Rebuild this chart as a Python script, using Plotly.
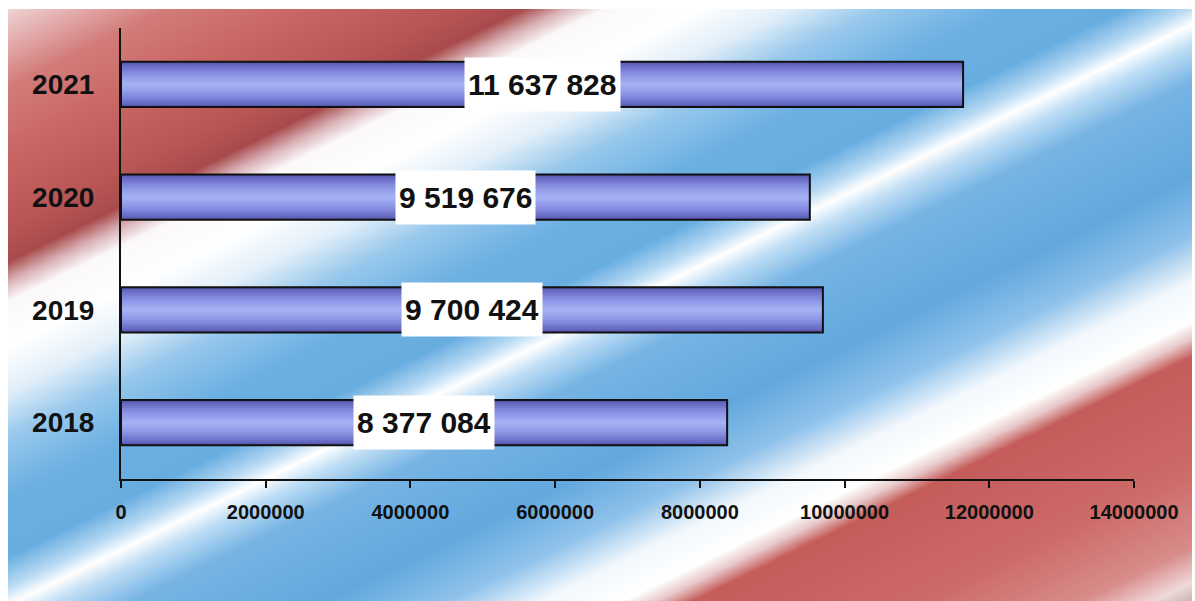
import numpy as np
import plotly.graph_objects as go

years = ['2018', '2019', '2020', '2021']
totals = [8377084, 9700424, 9519676, 11637828]
x_ticks = [0, 2000000, 4000000, 6000000, 8000000, 10000000, 12000000, 14000000]

# diagonal red / white / blue backdrop, colour keyed on t = y + 0.49 * x (pixels)
band_stops = [
    (0, '#f2e2e2'), (40, '#e6b4b4'), (90, '#d27c7a'), (160, '#c86664'),
    (230, '#b85656'), (265, '#a84a4c'), (285, '#d8b0b4'), (305, '#fbf8fa'),
    (350, '#ffffff'), (395, '#e2eff9'), (440, '#98c8ec'), (500, '#6cb0e2'),
    (560, '#68ade0'), (590, '#b8daf4'), (608, '#ffffff'), (628, '#c0def5'),
    (665, '#76b4e4'), (760, '#62a8de'), (820, '#90c2ea'), (865, '#f2f8fd'),
    (905, '#ffffff'), (922, '#e8c8c8'), (940, '#c45c5a'), (1050, '#cc6a68'),
    (1130, '#d88c8a'), (1165, '#f0d8d8'), (1200, '#a89898'),
]
T_MAX = 1200

W, H = 1195, 601
L, R, T, B = 8, 3, 9, 0

px_x = np.linspace(L, W - R, 160)
px_y = np.linspace(T, H - B, 80)
band_t = px_y[:, None] + 0.49 * px_x[None, :]

fig = go.Figure()

fig.add_trace(go.Heatmap(
    x=px_x, y=px_y, z=band_t,
    zmin=0, zmax=T_MAX, zsmooth='best',
    colorscale=[[t / T_MAX, c] for t, c in band_stops],
    showscale=False, hoverinfo='skip',
    xaxis='x', yaxis='y'
))

# cylinder look: stacked bars getting thinner and lighter
layers = [
    (0.40, '#5454ac'), (0.37, '#6064ba'), (0.34, '#6a6ec6'), (0.30, '#7479d0'),
    (0.26, '#7e84d8'), (0.22, '#868ddf'), (0.18, '#8e96e5'), (0.14, '#959eea'),
    (0.10, '#9ba5ee'), (0.06, '#a1abf1'), (0.03, '#a5aff3'),
]
for w, c in layers:
    fig.add_trace(go.Bar(
        x=totals, y=years, orientation='h', width=w,
        marker=dict(color=c, line=dict(width=0)),
        xaxis='x2', yaxis='y2', hoverinfo='skip', showlegend=False
    ))

fig.add_trace(go.Bar(
    x=totals, y=years, orientation='h', width=0.4,
    marker=dict(color='rgba(0,0,0,0)', line=dict(color='#111111', width=2)),
    xaxis='x2', yaxis='y2', showlegend=False
))

for i, v in enumerate(totals):
    fig.add_annotation(
        x=v / 2, y=i, xref='x2', yref='y2',
        text=f'{v:,}'.replace(',', ' '),
        showarrow=False, bgcolor='white', borderpad=3, height=47,
        font=dict(family='Liberation Sans, Arial, sans-serif', size=30,
                  color='#111111', weight='bold')
    )

plot_w = W - L - R
plot_h = H - T - B
axis_font = 'Liberation Sans, Arial, sans-serif'

fig.update_layout(
    width=W, height=H,
    margin=dict(l=L, r=R, t=T, b=B, autoexpand=False),
    paper_bgcolor='white', plot_bgcolor='rgba(0,0,0,0)',
    barmode='overlay', showlegend=False,
    xaxis=dict(domain=[0, 1], range=[L, W - R], visible=False,
               fixedrange=True, automargin=False),
    yaxis=dict(domain=[0, 1], range=[H - B, T], visible=False,
               fixedrange=True, automargin=False),
    xaxis2=dict(
        anchor='y2', automargin=False,
        domain=[(121 - L) / plot_w, (1134 - L) / plot_w],
        range=[0, 14000000], tickvals=x_ticks, tickformat='d',
        showline=True, linecolor='#111111', linewidth=2,
        ticks='outside', ticklen=7, tickwidth=2, tickcolor='#111111',
        ticklabelstandoff=7,
        tickfont=dict(family=axis_font, size=20, color='#111111', weight='bold'),
        showgrid=False, zeroline=False, fixedrange=True
    ),
    yaxis2=dict(
        anchor='x2', type='category', automargin=False,
        categoryorder='array', categoryarray=years,
        range=[-0.5, len(years) - 0.5],
        domain=[(H - 479) / plot_h, (H - 28) / plot_h],
        showline=True, linecolor='#111111', linewidth=2,
        ticks='', ticklabelstandoff=19,
        tickfont=dict(family=axis_font, size=28, color='#111111', weight='bold'),
        showgrid=False, zeroline=False, fixedrange=True
    )
)

fig.write_html('out.html', config={'displayModeBar': False},
               post_script="document.body.style.margin='0';")
